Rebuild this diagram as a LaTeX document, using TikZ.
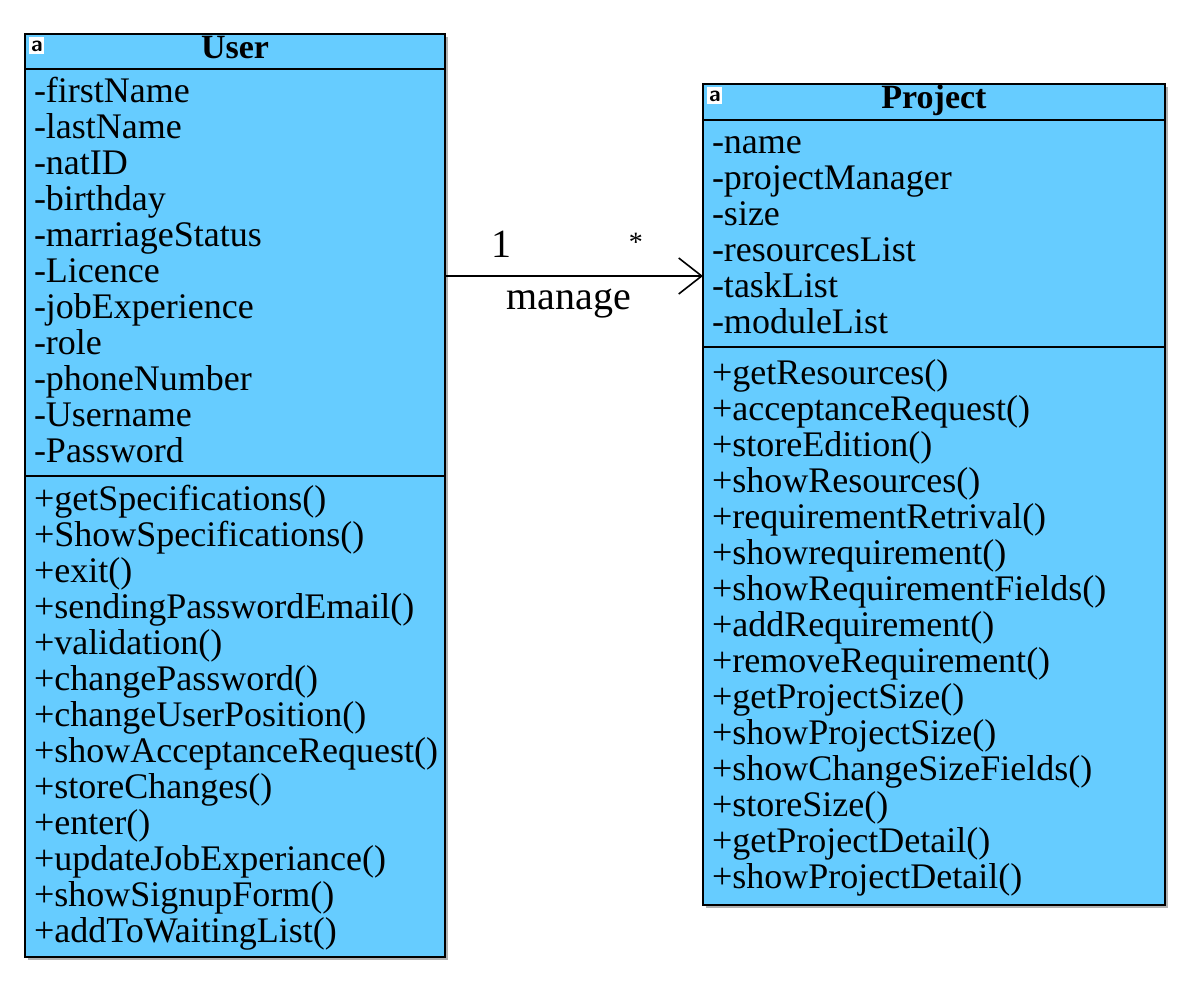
\documentclass[tikz,border=0pt]{standalone}
\usepackage{fontspec}
\setmainfont{Liberation Serif}
\usetikzlibrary{positioning,arrows.meta,shadows}
\definecolor{umlblue}{HTML}{66CCFF}

\begin{document}
\begin{tikzpicture}[x=0.5pt,y=-0.5pt,
    umlbox/.style={draw=black, line width=1pt, fill=umlblue, outer sep=0pt,
        inner xsep=4.5pt, inner ysep=0pt, anchor=north west,
        drop shadow={shadow xshift=1.5pt, shadow yshift=-1.5pt, fill=black!30, opacity=1}},
    umlpart/.style={umlbox, align=left, font=\fontsize{18}{18}\selectfont,
        execute at begin node=\rule{0pt}{15.6pt}, execute at end node=\strut},
    umlhead/.style={umlbox, align=center, font=\bfseries\fontsize{17}{17}\selectfont,
        execute at begin node=\strut},
    umlicon/.style={fill=white, inner sep=0pt, minimum width=7.5pt, minimum height=8.5pt,
        anchor=north west, font=\sffamily\bfseries\fontsize{11}{11}\selectfont},
    assoc/.style={line width=0.8pt, -{Straight Barb[length=11.5pt, width=18pt, line width=0.8pt]}},
    rolelabel/.style={inner sep=0pt, font=\fontsize{20}{20}\selectfont}]
    \useasboundingbox (0,0) rectangle (1199,990);

    % class User
    \node[umlhead, text width=201pt, minimum height=17.5pt] (userhead) at (25,34) {User};
    \node[umlpart, text width=201pt, minimum height=203.5pt, below=0pt of userhead] (userattr)
        {-firstName\\-lastName\\-natID\\-birthday\\-marriageStatus\\-Licence\\-jobExperience\\-role\\-phoneNumber\\-Username\\-Password};
    \node[umlpart, text width=201pt, minimum height=240.5pt, below=0pt of userattr] (usermeth)
        {+getSpecifications()\\+ShowSpecifications()\\+exit()\\+sendingPasswordEmail()\\+validation()\\+changePassword()\\+changeUserPosition()\\+showAcceptanceRequest()\\+storeChanges()\\+enter()\\+updateJobExperiance()\\+showSignupForm()\\+addToWaitingList()};
    \node[umlicon, below right=1.5pt and 2pt of userhead.north west] (usericon) {a};

    % class Project
    \node[umlhead, text width=222pt, minimum height=18pt] (projhead) at (703,84) {Project};
    \node[umlpart, text width=222pt, minimum height=113.5pt, below=0pt of projhead] (projattr)
        {-name\\-projectManager\\-size\\-resourcesList\\-taskList\\-moduleList};
    \node[umlpart, text width=222pt, minimum height=279pt, below=0pt of projattr] (projmeth)
        {+getResources()\\+acceptanceRequest()\\+storeEdition()\\+showResources()\\+requirementRetrival()\\+showrequirement()\\+showRequirementFields()\\+addRequirement()\\+removeRequirement()\\+getProjectSize()\\+showProjectSize()\\+showChangeSizeFields()\\+storeSize()\\+getProjectDetail()\\+showProjectDetail()};
    \node[umlicon, below right=1.5pt and 2pt of projhead.north west] (projicon) {a};

    % association
    \coordinate (assocy) at (0,276);
    \draw[assoc] (userattr.east |- assocy)
        -- node[rolelabel, pos=0.22, above=9pt] {1}
           node[rolelabel, pos=0.74, above=12pt, font=\fontsize{14}{14}\selectfont] {*}
           node[rolelabel, pos=0.48, below=6pt] {manage}
        (projattr.west |- assocy);
\end{tikzpicture}
\end{document}
